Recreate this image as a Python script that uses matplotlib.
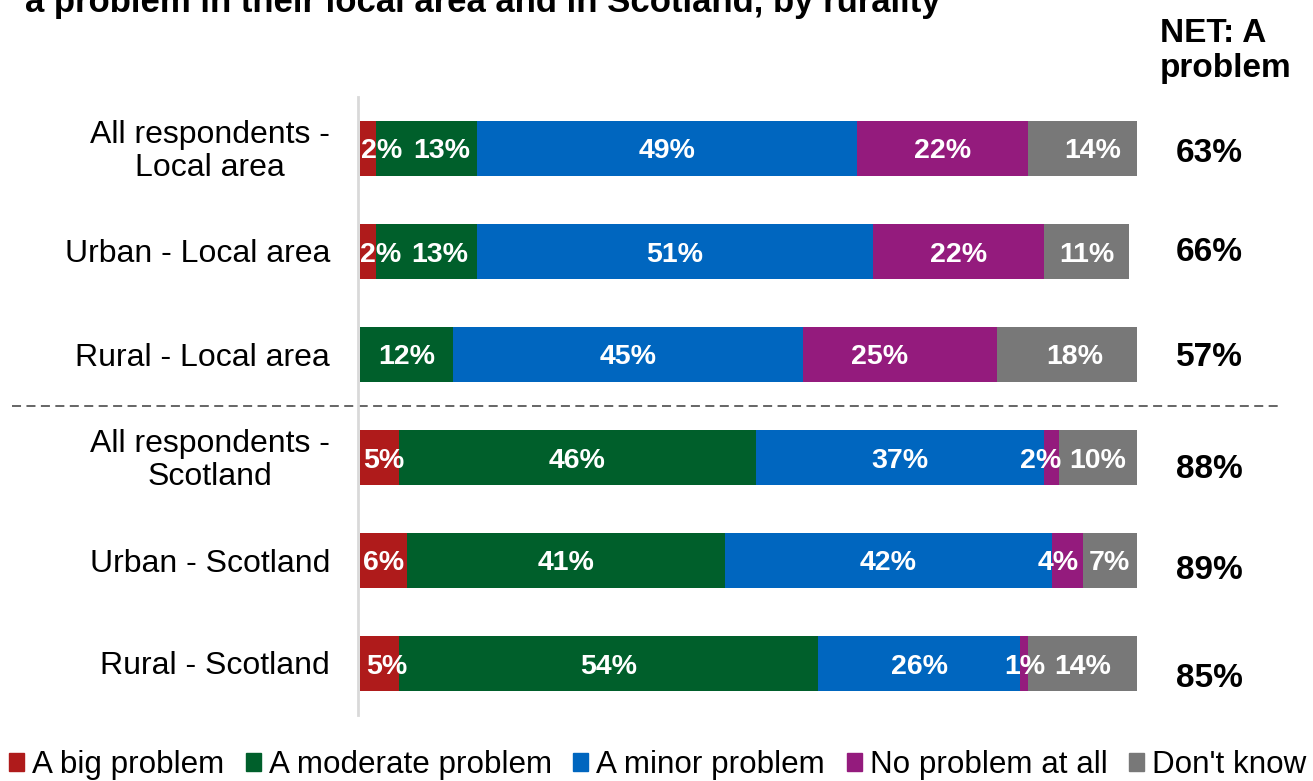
import numpy as np
import matplotlib
matplotlib.use("Agg")
import matplotlib.pyplot as plt
from matplotlib.patches import Patch

plt.rcParams["font.family"] = ["Liberation Sans", "DejaVu Sans"]

# Survey shares (%), one list per answer, rows top to bottom
rows = [
    "All respondents -\nLocal area",
    "Urban - Local area",
    "Rural - Local area",
    "All respondents -\nScotland",
    "Urban - Scotland",
    "Rural - Scotland",
]
big_problem = [2, 2, 0, 5, 6, 5]
moderate_problem = [13, 13, 12, 46, 41, 54]
minor_problem = [49, 51, 45, 37, 42, 26]
no_problem = [22, 22, 25, 2, 4, 1]
dont_know = [14, 11, 18, 10, 7, 14]
net_problem = [63, 66, 57, 88, 89, 85]

series_names = ["A big problem", "A moderate problem", "A minor problem",
                "No problem at all", "Don't know"]
colors = ["#AF1B1B", "#005F2B", "#0066BF", "#941B7D", "#787878"]

# label nudges (x units) where small segments would crowd each other
nudge = {(0, 0): 1.8, (0, 1): 2.0, (0, 4): 1.3,
         (1, 0): 1.7, (1, 1): 1.7,
         (2, 3): -2.6, (2, 4): 1.0,
         (3, 0): 0.6, (3, 3): -1.4,
         (4, 3): -1.1,
         (5, 0): 0.9}
net_dy = [-1, 2, 0, -6, -5, -8]  # points

W, H = 1313, 781
fig = plt.figure(figsize=(W / 100, H / 100), dpi=100)
ax = fig.add_axes([360 / W, 1 - 715 / H, (1137 - 360) / W, (715 - 97) / H])

data = np.array([big_problem, moderate_problem, minor_problem, no_problem, dont_know])
y = np.arange(len(rows))
left = np.zeros(len(rows))
for j, (vals, col, name) in enumerate(zip(data, colors, series_names)):
    ax.barh(y, vals, left=left, height=0.53, color=col, label=name)
    for i, v in enumerate(vals):
        if v > 0:
            x = left[i] + v / 2 + nudge.get((i, j), 0)
            ax.text(x, y[i], f"{v}%", ha="center", va="center_baseline",
                    color="white", fontsize=20.5, fontweight="bold")
    left += vals

ax.set_xlim(0, 100)
ax.set_ylim(len(rows) - 0.5, -0.5)
ax.set_xticks([])
ax.set_yticks([])
for s in ["top", "right", "bottom"]:
    ax.spines[s].set_visible(False)
ax.spines["left"].set_color("#D9D9D9")
ax.spines["left"].set_linewidth(2)
ax.spines["left"].set_position(("data", -0.2))

# row labels, centred lines, right edge 30px left of the bars
for i, name in enumerate(rows):
    ax.annotate(name, xy=(0, y[i]), xycoords=("axes fraction", "data"),
                xytext=(-30, -3), textcoords="offset pixels",
                ha="right", va="center", multialignment="center",
                fontsize=23, linespacing=1.12, annotation_clip=False)

# NET column
for i, v in enumerate(net_problem):
    ax.annotate(f"{v}%", xy=(1, y[i]), xycoords=("axes fraction", "data"),
                xytext=(1209 - 1137, net_dy[i] * 100 / 72), textcoords="offset pixels",
                ha="center", va="center_baseline", fontsize=24, fontweight="bold",
                annotation_clip=False)
fig.text(1160 / W, 1 - 18 / H, "NET: A\nproblem", ha="left", va="top",
         fontsize=24, fontweight="bold", linespacing=1.15)

# divider between local area and Scotland rows
trans = matplotlib.transforms.blended_transform_factory(fig.transFigure, ax.transData)
ax.plot([12 / W, 1283 / W], [2.5, 2.5], transform=trans, color="#595959",
        linestyle=(0, (5, 3)), linewidth=1.3, clip_on=False)

fig.text(25 / W, 1 - 12 / H, "a problem in their local area and in Scotland, by rurality",
         ha="left", va="baseline", fontsize=25, fontweight="bold")

handles = [Patch(color=c, label=n) for c, n in zip(colors, series_names)]
fig.legend(handles=handles, loc="center", bbox_to_anchor=(657.5 / W, 1 - 765 / H),
           ncol=5, frameon=False, fontsize=22.6, handlelength=0.48, handleheight=0.5,
           handletextpad=0.26, columnspacing=0.68, borderpad=0, borderaxespad=0)

fig.savefig("out.png", dpi=100)
